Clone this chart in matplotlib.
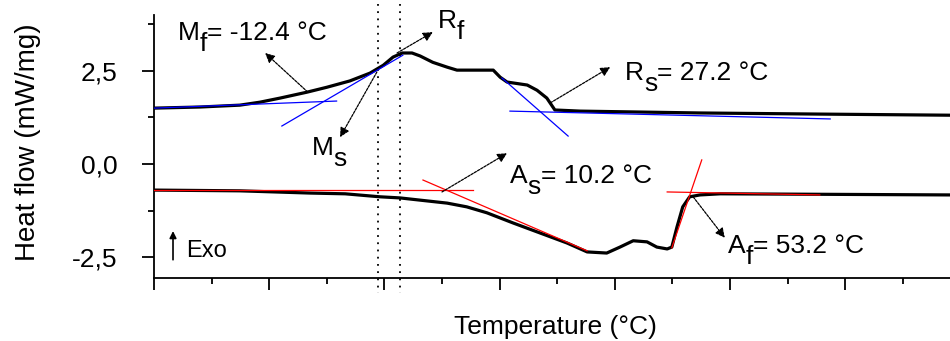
import numpy as np
import matplotlib
matplotlib.use('Agg')
import matplotlib.pyplot as plt
from matplotlib.ticker import MultipleLocator, FixedLocator

plt.rcParams['font.family'] = ['Liberation Sans', 'DejaVu Sans']

# cooling curve (upper)
cool_T = [-40.0, -32.0, -25.1, -21.6, -18.1, -13.4, -10.0, -6.0, -2.5, -0.2, 1.5, 3.1, 4.8,
          6.2, 8.4, 10.9, 12.6, 18.9, 20.1, 21.3, 24.8, 26.5, 28.2, 29.6, 34.0, 54.8, 75.6, 98.2]
cool_hf = [1.50, 1.53, 1.58, 1.66, 1.77, 1.93, 2.06, 2.23, 2.44, 2.65, 2.87, 2.98, 2.98,
           2.90, 2.73, 2.60, 2.52, 2.52, 2.33, 2.20, 2.12, 1.98, 1.77, 1.45, 1.42, 1.37, 1.34, 1.31]

# heating curve (lower)
heat_T = [-40.0, -25.1, -12.9, -6.8, -0.8, 2.7, 6.2, 10.9, 14.3, 17.8, 22.3, 27.0, 31.7, 35.2,
          38.6, 40.9, 43.2, 45.6, 47.3, 49.1, 49.9, 50.8, 51.8, 53.0, 54.8, 58.3, 98.2]
heat_hf = [-0.70, -0.72, -0.78, -0.80, -0.88, -0.91, -0.97, -1.05, -1.15, -1.31, -1.58, -1.85,
           -2.12, -2.36, -2.39, -2.23, -2.06, -2.09, -2.23, -2.28, -2.23, -1.69, -1.15, -0.88,
           -0.83, -0.80, -0.83]

# construction lines (start/end points)
blue_lines = [([-40.0, -8.3], [1.50, 1.69]),
              ([-17.8, 3.2], [1.02, 2.92]),
              ([20.4, 31.9], [2.31, 0.75]),
              ([21.8, 77.4], [1.42, 1.21])]
red_lines = [([-40.0, 15.4], [-0.70, -0.70]),
             ([6.7, 35.2], [-0.43, -2.33]),
             ([49.1, 75.6], [-0.75, -0.83]),
             ([55.1, 49.9], [0.11, -2.25])]

dotted_T = [-1.1, 2.7]

# labels: (main letter, subscript, rest)
labels = [('M', 'f', '= -12.4 °C'), ('R', 'f', ''), ('M', 's', ''), ('R', 's', '= 27.2 °C'),
          ('A', 's', '= 10.2 °C'), ('A', 'f', '= 53.2 °C')]
label_xy = [(-35.8, 3.32), (9.3, 3.65), (-12.6, 0.24), (41.8, 2.25), (21.8, -0.51), (59.6, -2.39)]
arrow_tail = [(-13.3, 1.93), (2.2, 2.98), (-1.3, 2.47), (28.8, 1.64), (10.0, -0.75), (53.6, -0.88)]
arrow_head = [(-20.7, 2.98), (8.4, 3.54), (-7.7, 0.72), (39.2, 2.60), (21.3, 0.29), (59.1, -1.98)]

fig = plt.figure(figsize=(9.5, 3.41), dpi=100)
ax = fig.add_axes([154/950, 63/341, 796/950, 263/341])

for xs, ys in blue_lines:
    ax.plot(xs, ys, color='#0000ff', lw=0.9, zorder=3)
ax.plot(cool_T, cool_hf, color='black', lw=2.3, zorder=2)
ax.plot(heat_T, heat_hf, color='black', lw=2.3, zorder=2)
for xs, ys in red_lines:
    ax.plot(xs, ys, color='#ff0000', lw=0.9, zorder=3)

for t in dotted_T:
    ax.plot([t, t], [4.29, -3.45], color='black', lw=1.3, ls=(0, (1, 3)), clip_on=False)

for (tx, ty), (hx, hy) in zip(arrow_tail, arrow_head):
    ax.annotate('', xy=(hx, hy), xytext=(tx, ty),
                arrowprops=dict(arrowstyle='-|>', color='black', lw=0.9,
                                ls=(0, (2, 1)), mutation_scale=14, shrinkA=0, shrinkB=0))

fs = 19
sub_drop = 8  # points
for (main, sub, rest), (x, y) in zip(labels, label_xy):
    t1 = ax.text(x, y, main, fontsize=fs, ha='left', va='baseline')
    t2 = ax.annotate(sub, xy=(1, 0), xycoords=t1, xytext=(0, -sub_drop),
                     textcoords='offset points', fontsize=fs, ha='left', va='bottom')
    if rest:
        ax.annotate(rest, xy=(1, 0), xycoords=t2, xytext=(0, sub_drop),
                    textcoords='offset points', fontsize=fs, ha='left', va='bottom')

# Exo marker
ax.annotate('', xy=(-36.7, -1.80), xytext=(-36.7, -2.57),
            arrowprops=dict(arrowstyle='-|>', color='black', lw=1.2, mutation_scale=10,
                            shrinkA=0, shrinkB=0))
ax.text(-34.4, -2.49, 'Exo', fontsize=17, ha='left', va='baseline')

ax.set_xlim(-40, 98.2)
ax.set_ylim(-3.06, 4.0)
ax.spines['top'].set_visible(False)
ax.spines['right'].set_visible(False)
ax.spines['left'].set_linewidth(1.3)
ax.spines['bottom'].set_linewidth(1.3)

ax.xaxis.set_major_locator(MultipleLocator(20))
ax.xaxis.set_minor_locator(MultipleLocator(10))
ax.set_xticklabels([])
ax.yaxis.set_major_locator(FixedLocator([-2.5, 0.0, 2.5]))
ax.set_yticklabels(['-2,5', '0,0', '2,5'])
ax.yaxis.set_minor_locator(MultipleLocator(1.25))
ax.tick_params(axis='both', which='major', direction='out', length=8.5, width=1.3)
ax.tick_params(axis='both', which='minor', direction='out', length=4.5, width=1.3)
ax.tick_params(axis='y', which='major', labelsize=19, pad=18)

fig.text(555/950, 1 - 327/341, 'Temperature (°C)', fontsize=19, ha='center', va='center')
fig.text(28/950, 1 - 142/341, 'Heat flow (mW/mg)', fontsize=20, ha='center', va='center',
         rotation=90)

fig.savefig('out.png', dpi=100)
